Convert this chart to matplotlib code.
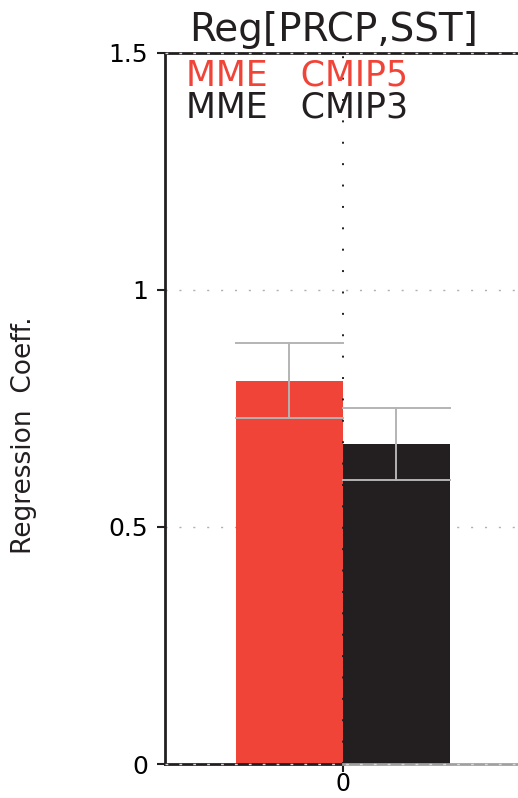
import matplotlib
matplotlib.use("Agg")
import matplotlib.pyplot as plt

plt.rcParams['font.family'] = ['DejaVu Sans']

labels = ["MME   CMIP5", "MME   CMIP3"]
values = [0.808, 0.675]
err_low = [0.730, 0.599]
err_high = [0.888, 0.751]
colors = ["#f04438", "#231f20"]
yticks = [0, 0.5, 1, 1.5]
yticklabels = ["0", "0.5", "1", "1.5"]
xticks = [0]
xticklabels = ["0"]
title = "Reg[PRCP,SST]"
ylabel = "Regression  Coeff."

fig = plt.figure(figsize=(5.18, 7.98), dpi=100)
W, H = 518, 798
left_px, right_px, top_px, bot_px = 165, 521, 53, 764
ax = fig.add_axes([left_px / W, 1 - bot_px / H, (right_px - left_px) / W, (bot_px - top_px) / H])

half = (right_px - left_px) / 2 / 107.0
ax.set_xlim(-half, half)
ax.set_ylim(0, 1.5)

offsets = [-0.5, 0.5]
for off, v, lo, hi, c in zip(offsets, values, err_low, err_high, colors):
    ax.bar(off, v, width=1.0, color=c, zorder=2)
    ax.plot([off, off], [lo, hi], color="#b4b4b4", lw=1.4, zorder=3)
    ax.plot([off - 0.5, off + 0.5], [lo, lo], color="#b4b4b4", lw=1.4, zorder=3)
    ax.plot([off - 0.5, off + 0.5], [hi, hi], color="#b4b4b4", lw=1.4, zorder=3)

# grid lines
for y in [0.5, 1.0]:
    ax.axhline(y, color="#b0b0b0", lw=1.0, ls=(0, (1.5, 8.5)), zorder=1)
ax.axvline(0, color="#231f20", lw=1.4, ls=(0, (1.0, 10.0)), zorder=4)

# spines
ax.spines["right"].set_visible(False)
for s in ["left", "top", "bottom"]:
    ax.spines[s].set_linewidth(2.0)
    ax.spines[s].set_color("#231f20")
ax.spines["bottom"].set_bounds(-half, 0)
ax.plot([0, half], [0, 0], color="#a0a0a0", lw=2.0, zorder=5, clip_on=False)
for y in [0, 1.5]:
    ax.plot([-half, half], [y, y], color="#d8d8d8", lw=1.0, ls=(0, (2, 8)), zorder=6, clip_on=False)

ax.set_yticks(yticks)
ax.set_yticklabels(yticklabels)
ax.set_xticks(xticks)
ax.set_xticklabels(xticklabels)
ax.tick_params(axis="y", direction="out", length=6, width=1.5, labelsize=18, pad=6, color="#231f20")
ax.tick_params(axis="x", direction="out", length=6, width=1.5, labelsize=17, pad=0, color="#231f20")

ax.text(-0.09, 1.5 + 0.008, title, ha="center", va="bottom", fontsize=28, color="#231f20")
ax.set_ylabel(ylabel, fontsize=19, color="#231f20")
ax.yaxis.set_label_coords(-0.36, 0.462)

for i, (lab, c) in enumerate(zip(labels, colors)):
    ax.text(-1.47, 1.452 - i * 0.068, lab, ha="left", va="center", fontsize=25, color=c, zorder=7)

fig.savefig("out.png", dpi=100)
